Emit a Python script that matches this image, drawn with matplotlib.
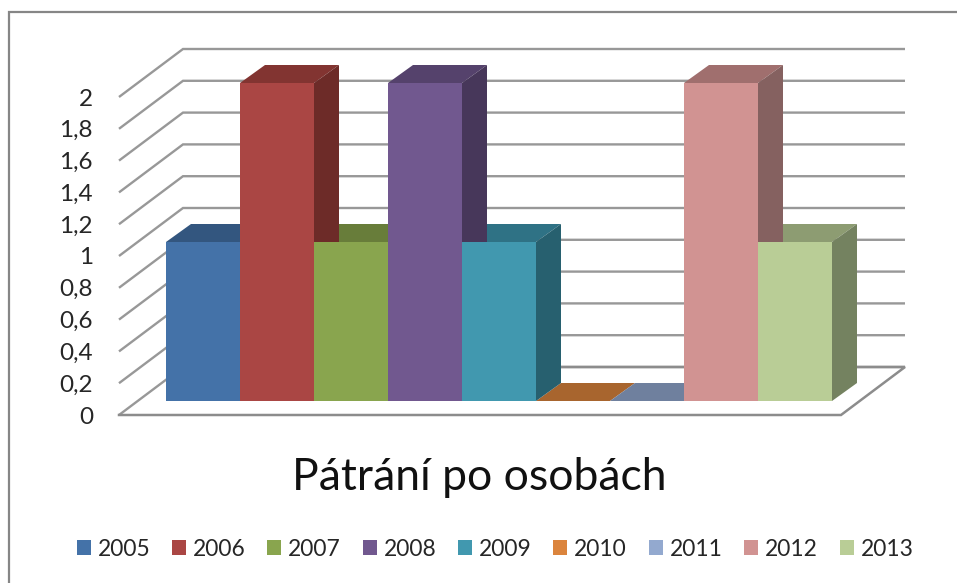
import matplotlib.pyplot as plt
from matplotlib.patches import Patch, Polygon, Rectangle
import numpy as np

# Data
years = ['2005', '2006', '2007', '2008', '2009', '2010', '2011', '2012', '2013']
values = [1, 2, 1, 2, 1, 0, 0, 2, 1]
tick_values = [0, 0.2, 0.4, 0.6, 0.8, 1, 1.2, 1.4, 1.6, 1.8, 2]
tick_labels = ['0', '0,2', '0,4', '0,6', '0,8', '1', '1,2', '1,4', '1,6', '1,8', '2']
title = 'Pátrání po osobách'

front_colors = ['#4472A8', '#AA4644', '#89A54E', '#71588F', '#4198AF',
                '#DB843D', '#93A9CF', '#D19392', '#B9CD96']
top_colors = ['#33567F', '#823431', '#687D3A', '#55426C', '#2F7285',
              '#A8652E', '#6F809E', '#A06F6E', '#8D9C72']
side_colors = ['#2A4768', '#6D2B28', '#566830', '#47375A', '#27606F',
               '#8C5426', '#5C6A83', '#856160', '#748260']

plt.rcParams['font.family'] = ['Lato', 'DejaVu Sans']

# One slot is one bar wide, y is the chart value, the 3D depth is a fixed shift
W, H = 957, 583
slot_px, unit_px = 74, 159
x0_px, y0_px = 166, 401
bar_dx, bar_dy = 25 / slot_px, 18 / unit_px
wall_dx, wall_dy = 64 / slot_px, 48 / unit_px
floor_left = (119 - x0_px) / slot_px
floor_right = (841 - x0_px) / slot_px
floor_y = (y0_px - 415) / unit_px

fig = plt.figure(figsize=(W / 100, H / 100), dpi=100)
ax = fig.add_axes([0, 0, 1, 1])
ax.set_xlim(-x0_px / slot_px, (W - x0_px) / slot_px)
ax.set_ylim((y0_px - H) / unit_px, y0_px / unit_px)
ax.axis('off')

# Outer frame, it runs off the right and bottom of the picture
ax.add_patch(Rectangle(((9 - x0_px) / slot_px, (y0_px - H - 20) / unit_px),
                       (W + 20) / slot_px, (H + 8) / unit_px,
                       fill=False, ec='#868686', lw=1.6, zorder=1))

# Walls and grid lines
for v, label in zip(tick_values, tick_labels):
    y = floor_y + v
    ax.plot([floor_left, floor_left + wall_dx, floor_right + wall_dx],
            [y, y + wall_dy, y + wall_dy], color='#989898', lw=1.7, zorder=2,
            solid_joinstyle='miter', solid_capstyle='butt')
    ax.text(floor_left - 26 / slot_px, y - 2 / unit_px, label, ha='right', va='center',
            fontsize=17.5, color='#262626')
ax.plot([floor_left + wall_dx, floor_right + wall_dx, floor_right, floor_left],
        [floor_y + wall_dy, floor_y + wall_dy, floor_y, floor_y],
        color='#8C8C8C', lw=1.8, zorder=2, solid_joinstyle='miter')

# Bars: tops first, then sides, fronts last so they hide the neighbour's side
for i, v in enumerate(values):
    ax.add_patch(Polygon([(i, v), (i + 1, v), (i + 1 + bar_dx, v + bar_dy), (i + bar_dx, v + bar_dy)],
                         fc=top_colors[i], ec='none', zorder=3))
for i, v in enumerate(values):
    if v > 0:
        ax.add_patch(Polygon([(i + 1, 0), (i + 1 + bar_dx, bar_dy), (i + 1 + bar_dx, v + bar_dy), (i + 1, v)],
                             fc=side_colors[i], ec='none', zorder=4))
ax.bar(np.arange(len(values)), values, width=1, align='edge', color=front_colors, zorder=5)

ax.text((479 - x0_px) / slot_px, (y0_px - 477) / unit_px, title, ha='center', va='center',
        fontsize=32, color='#111111')

handles = [Patch(fc=c, ec='none') for c in front_colors]
ax.legend(handles, years, ncols=len(years), loc='center', frameon=False,
          bbox_to_anchor=(495 / W, 1 - 549 / H), fontsize=16.4, labelcolor='#262626',
          handlelength=0.61, handleheight=0.61, handletextpad=0.3, columnspacing=0.96,
          borderpad=0, borderaxespad=0)

fig.savefig('out.png', dpi=100)
